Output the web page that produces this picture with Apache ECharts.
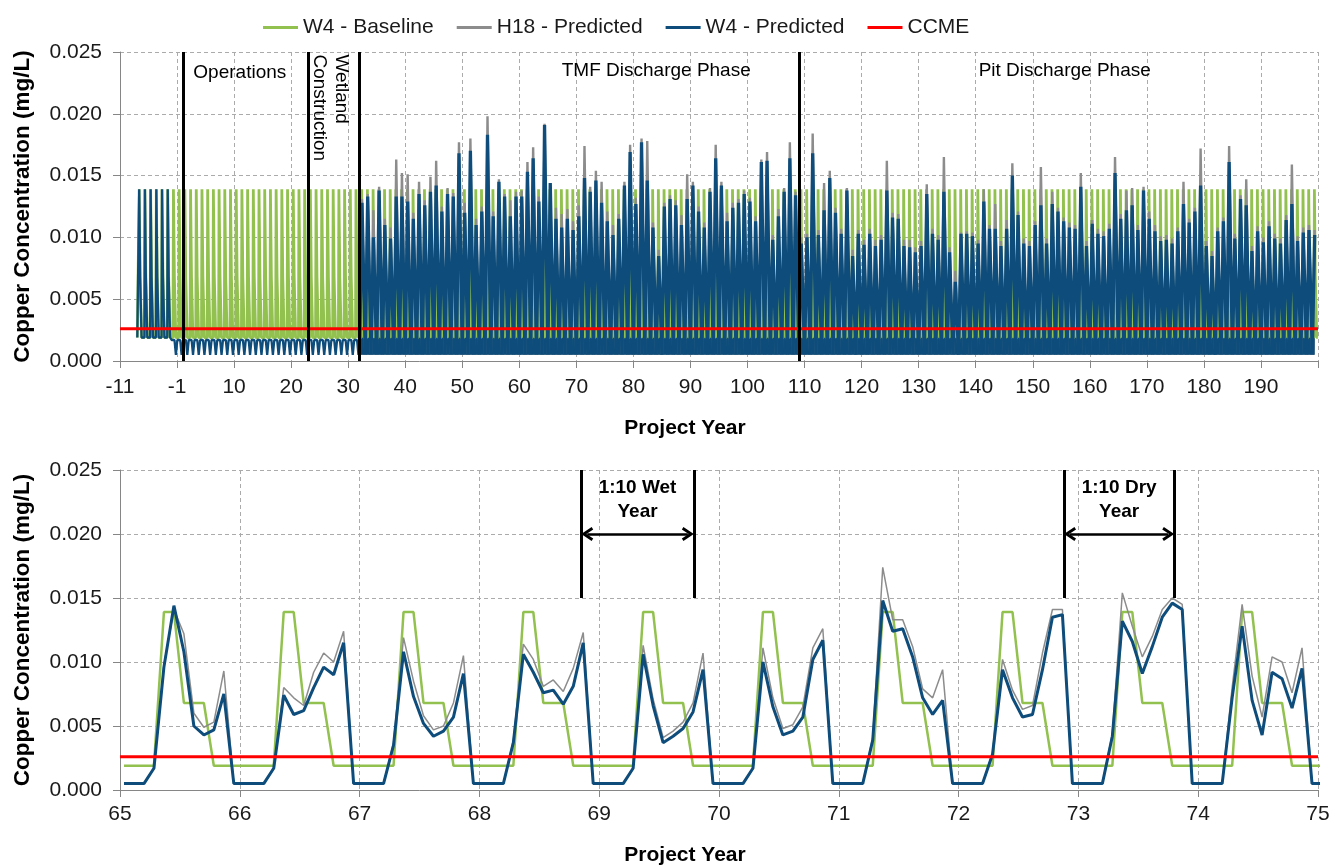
<!DOCTYPE html>
<html>
<head>
<meta charset="utf-8">
<script src="https://cdn.jsdelivr.net/npm/echarts@6.0.0/dist/echarts.min.js"></script>
<style>
html, body { margin: 0; padding: 0; background: #fff; }
#main { width: 1335px; height: 867px; }
</style>
</head>
<body>
<div id="main"></div>
<script>
// ---- data ----
// top chart: project years have no year 0, so ticks are spaced in "year slots"
const topTickLabels = ['-11', '-1', '10', '20', '30', '40', '50', '60', '70', '80', '90',
    '100', '110', '120', '130', '140', '150', '160', '170', '180', '190'];
// W4 baseline, one value per month (same every year)
const baselineCycle = [0.0019, 0.0019, 0.0019, 0.0019, 0.0139, 0.0139, 0.0068, 0.0068, 0.0068, 0.0019, 0.0019, 0.0019];
const topFirstYear = -8;
const topLastYear = 199;
// W4 predicted before operations follows the baseline
const preOpsYears = [-8, -7, -6, -5, -4, -3];
// W4 predicted during operations / wetland construction (years -2..31): summer level, winter dip
const opsYears = [-2, 31];
const opsLevels = [0.0017, 0.0005];
// discharge phases (years 32..199): winter low and annual peak
const dischargeFirstYear = 32;
const dischargeLow = 0.0005;
const w4Peak = [
    0.0128, 0.0133, 0.0100, 0.0138, 0.0110, 0.0099, 0.0133, 0.0133, 0.0129, 0.0115,
    0.0135, 0.0126, 0.0137, 0.0142, 0.0121, 0.0135, 0.0133, 0.0168, 0.0120, 0.0170,
    0.0110, 0.0121, 0.0183, 0.0117, 0.0145, 0.0133, 0.0117, 0.0133, 0.0133, 0.0153,
    0.0164, 0.0129, 0.0191, 0.0144, 0.0115, 0.0108, 0.0115, 0.0106, 0.0117, 0.0148,
    0.0137, 0.0146, 0.0128, 0.0113, 0.0102, 0.0115, 0.0142, 0.0169, 0.0127, 0.0177,
    0.0146, 0.0108, 0.0085, 0.0125, 0.0131, 0.0126, 0.0110, 0.0131, 0.0142, 0.0121,
    0.0108, 0.0137, 0.0164, 0.0142, 0.0113, 0.0124, 0.0128, 0.0135, 0.0129, 0.0113,
    0.0161, 0.0162, 0.0098, 0.0117, 0.0137, 0.0164, 0.0134, 0.0095, 0.0100, 0.0168,
    0.0102, 0.0122, 0.0148, 0.0120, 0.0103, 0.0138, 0.0085, 0.0103, 0.0094, 0.0103,
    0.0093, 0.0098, 0.0138, 0.0116, 0.0115, 0.0093, 0.0092, 0.0088, 0.0093, 0.0135,
    0.0103, 0.0098, 0.0137, 0.0088, 0.0064, 0.0103, 0.0103, 0.0101, 0.0095, 0.0129,
    0.0107, 0.0107, 0.0093, 0.0107, 0.0150, 0.0118, 0.0095, 0.0093, 0.0110, 0.0126,
    0.0095, 0.0127, 0.0121, 0.0113, 0.0108, 0.0107, 0.0141, 0.0093, 0.0111, 0.0103,
    0.0101, 0.0107, 0.0152, 0.0115, 0.0122, 0.0126, 0.0106, 0.0138, 0.0115, 0.0105,
    0.0097, 0.0098, 0.0095, 0.0105, 0.0127, 0.0112, 0.0121, 0.0142, 0.0093, 0.0085,
    0.0105, 0.0113, 0.0161, 0.0099, 0.0131, 0.0126, 0.0089, 0.0105, 0.0096, 0.0109,
    0.0099, 0.0095, 0.0114, 0.0127, 0.0097, 0.0104, 0.0106, 0.0102
];
const h18Peak = [
    0.0131, 0.0135, 0.0122, 0.0141, 0.0115, 0.0108, 0.0163, 0.0152, 0.0151, 0.0120,
    0.0145, 0.0130, 0.0149, 0.0162, 0.0125, 0.0140, 0.0136, 0.0177, 0.0128, 0.0180,
    0.0115, 0.0125, 0.0198, 0.0121, 0.0147, 0.0135, 0.0130, 0.0137, 0.0138, 0.0161,
    0.0173, 0.0133, 0.0192, 0.0141, 0.0124, 0.0119, 0.0123, 0.0113, 0.0126, 0.0174,
    0.0141, 0.0154, 0.0145, 0.0121, 0.0110, 0.0119, 0.0145, 0.0175, 0.0132, 0.0180,
    0.0178, 0.0112, 0.0090, 0.0128, 0.0134, 0.0130, 0.0118, 0.0151, 0.0145, 0.0125,
    0.0112, 0.0140, 0.0175, 0.0145, 0.0120, 0.0128, 0.0131, 0.0138, 0.0132, 0.0117,
    0.0163, 0.0169, 0.0102, 0.0123, 0.0140, 0.0177, 0.0137, 0.0100, 0.0103, 0.0184,
    0.0106, 0.0144, 0.0154, 0.0124, 0.0107, 0.0140, 0.0090, 0.0106, 0.0098, 0.0107,
    0.0098, 0.0102, 0.0162, 0.0120, 0.0119, 0.0098, 0.0098, 0.0092, 0.0097, 0.0143,
    0.0107, 0.0102, 0.0165, 0.0092, 0.0073, 0.0104, 0.0105, 0.0104, 0.0098, 0.0139,
    0.0110, 0.0127, 0.0097, 0.0114, 0.0160, 0.0121, 0.0099, 0.0097, 0.0113, 0.0157,
    0.0099, 0.0137, 0.0124, 0.0116, 0.0112, 0.0110, 0.0152, 0.0097, 0.0114, 0.0107,
    0.0105, 0.0111, 0.0165, 0.0119, 0.0138, 0.0140, 0.0110, 0.0141, 0.0121, 0.0110,
    0.0101, 0.0102, 0.0099, 0.0108, 0.0145, 0.0115, 0.0124, 0.0172, 0.0097, 0.0089,
    0.0108, 0.0116, 0.0174, 0.0103, 0.0134, 0.0147, 0.0093, 0.0109, 0.0100, 0.0113,
    0.0103, 0.0099, 0.0118, 0.0159, 0.0101, 0.0108, 0.0110, 0.0106
];
const ccme = 0.0026;
const phaseYears = [1, 23, 32, 109];

// bottom chart: monthly values, years 65..75
const bottomStart = 65;
const bottomW4 = [
    0.0005, 0.0005, 0.0005, 0.0017, 0.0096, 0.0144, 0.0108, 0.0050, 0.0043, 0.0047, 0.0075, 0.0005,
    0.0005, 0.0005, 0.0005, 0.0017, 0.0074, 0.0059, 0.0062, 0.0080, 0.0096, 0.0090, 0.0115, 0.0005,
    0.0005, 0.0005, 0.0005, 0.0035, 0.0108, 0.0073, 0.0052, 0.0042, 0.0046, 0.0057, 0.0091, 0.0005,
    0.0005, 0.0005, 0.0005, 0.0037, 0.0106, 0.0092, 0.0076, 0.0078, 0.0067, 0.0081, 0.0115, 0.0005,
    0.0005, 0.0005, 0.0005, 0.0017, 0.0106, 0.0066, 0.0037, 0.0042, 0.0048, 0.0061, 0.0094, 0.0005,
    0.0005, 0.0005, 0.0005, 0.0017, 0.0100, 0.0065, 0.0043, 0.0046, 0.0057, 0.0102, 0.0117, 0.0005,
    0.0005, 0.0005, 0.0005, 0.0039, 0.0148, 0.0124, 0.0126, 0.0104, 0.0072, 0.0059, 0.0070, 0.0005,
    0.0005, 0.0005, 0.0005, 0.0028, 0.0094, 0.0072, 0.0057, 0.0059, 0.0094, 0.0135, 0.0137, 0.0005,
    0.0005, 0.0005, 0.0005, 0.0042, 0.0132, 0.0116, 0.0091, 0.0112, 0.0135, 0.0146, 0.0141, 0.0005,
    0.0005, 0.0005, 0.0005, 0.0072, 0.0128, 0.0070, 0.0043, 0.0092, 0.0087, 0.0064, 0.0095, 0.0005,
    0.0005
];
const bottomH18 = [
    0.0005, 0.0005, 0.0005, 0.0017, 0.0098, 0.0141, 0.0122, 0.0060, 0.0049, 0.0053, 0.0093, 0.0005,
    0.0005, 0.0005, 0.0005, 0.0017, 0.0080, 0.0072, 0.0066, 0.0092, 0.0107, 0.0100, 0.0124, 0.0005,
    0.0005, 0.0005, 0.0005, 0.0037, 0.0119, 0.0085, 0.0058, 0.0047, 0.0050, 0.0068, 0.0105, 0.0005,
    0.0005, 0.0005, 0.0005, 0.0039, 0.0114, 0.0102, 0.0081, 0.0086, 0.0077, 0.0095, 0.0123, 0.0005,
    0.0005, 0.0005, 0.0005, 0.0017, 0.0113, 0.0071, 0.0041, 0.0046, 0.0053, 0.0068, 0.0107, 0.0005,
    0.0005, 0.0005, 0.0005, 0.0017, 0.0111, 0.0072, 0.0048, 0.0051, 0.0065, 0.0111, 0.0126, 0.0005,
    0.0005, 0.0005, 0.0005, 0.0041, 0.0174, 0.0133, 0.0133, 0.0112, 0.0079, 0.0072, 0.0094, 0.0005,
    0.0005, 0.0005, 0.0005, 0.0029, 0.0102, 0.0078, 0.0063, 0.0066, 0.0107, 0.0141, 0.0141, 0.0005,
    0.0005, 0.0005, 0.0005, 0.0044, 0.0154, 0.0128, 0.0104, 0.0120, 0.0141, 0.0150, 0.0145, 0.0005,
    0.0005, 0.0005, 0.0005, 0.0080, 0.0145, 0.0089, 0.0057, 0.0104, 0.0100, 0.0076, 0.0111, 0.0005,
    0.0005
];
const wetYear = [68.85, 69.79];
const dryYear = [72.88, 73.80];

// ---- build series ----
function slot(year) { return year < 0 ? year + 11 : year + 10; }

var topBaseline = [];
for (var y = topFirstYear; y <= topLastYear; y++) {
    if (y === 0) continue;
    baselineCycle.forEach(function (v, m) { topBaseline.push([slot(y) + (m + 0.4) / 12, v]); });
}
var topW4Early = [];
preOpsYears.forEach(function (y) {
    baselineCycle.forEach(function (v, m) { topW4Early.push([slot(y) + (m + 0.4) / 12, v]); });
});
for (var y = opsYears[0]; y <= opsYears[1]; y++) {
    if (y === 0) continue;
    topW4Early.push([slot(y) + 0.05, opsLevels[0]], [slot(y) + 0.55, opsLevels[0]], [slot(y) + 0.8, opsLevels[1]]);
}
var topW4 = [], topH18 = [];
w4Peak.forEach(function (p, i) {
    var x = slot(dischargeFirstYear + i);
    topW4.push([x, dischargeLow], [x + 0.1, dischargeLow], [x + 0.42, p]);
    topH18.push([x, dischargeLow], [x + 0.1, dischargeLow], [x + 0.42, h18Peak[i]]);
});

function monthly(arr) { return arr.map(function (v, k) { return [bottomStart + (k + 0.4) / 12, v]; }); }
var botBaseline = bottomW4.map(function (v, k) { return [bottomStart + (k + 0.4) / 12, baselineCycle[k % 12]]; });

const FONT = 'Liberation Sans';
const GREEN = '#92C150', GREY = '#8C8C8C', BLUE = '#0E4D7B', RED = '#FF0000';
// open arrow head (tip up, rotated by the mark line)
const CHEVRON = 'path://M0,13 L10,0 L20,13 L16.5,15 L10,6.5 L3.5,15 Z';

function yAxisCfg(gi) {
    return {
        gridIndex: gi, type: 'value', min: 0, max: 0.025, interval: 0.005,
        name: 'Copper Concentration (mg/L)', nameLocation: 'middle', nameGap: 86,
        nameTextStyle: { fontFamily: FONT, fontSize: 22.5, fontWeight: 'bold', color: '#000' },
        axisLine: { show: true, lineStyle: { color: '#868686' } },
        axisTick: { show: true, length: 7, lineStyle: { color: '#868686' } },
        axisLabel: { fontFamily: FONT, fontSize: 21, color: '#1a1a1a', margin: 18,
            formatter: function (v) { return v.toFixed(3); } },
        splitLine: { lineStyle: { color: '#ababab', type: [4, 3] } }
    };
}

function line(name, xi, data, color, width, extra) {
    return Object.assign({ name: name, type: 'line', xAxisIndex: xi, yAxisIndex: xi, data: data,
        showSymbol: false, symbol: 'none', color: color, lineStyle: { width: width }, silent: true }, extra || {});
}

// double arrow between two marker lines; heads pulled in so their tips touch the lines
function arrowPair(a, b) {
    return [{ coord: [a + 0.05, 0.020], symbol: CHEVRON, symbolSize: [14, 12] },
            { coord: [b - 0.05, 0.020], symbol: CHEVRON, symbolSize: [14, 12], lineStyle: { width: 2.5 } }];
}

var chart = echarts.init(document.getElementById('main'));
var option = {
    animation: false,
    legend: {
        top: 12, left: 258, itemWidth: 35, itemHeight: 3, itemGap: 23, icon: 'rect',
        textStyle: { fontFamily: FONT, fontSize: 21, color: '#1a1a1a' },
        data: ['W4 - Baseline', 'H18 - Predicted', 'W4 - Predicted', 'CCME']
    },
    grid: [
        { left: 120, top: 52, width: 1198, height: 309 },
        { left: 120, top: 470, width: 1198, height: 320 }
    ],
    xAxis: [
        {
            gridIndex: 0, type: 'value', min: 0, max: 210, interval: 10,
            name: 'Project Year', nameLocation: 'middle', nameGap: 57,
            nameTextStyle: { fontFamily: FONT, fontSize: 21, fontWeight: 'bold', color: '#000', padding: [0, 68, 0, 0] },
            axisLine: { lineStyle: { color: '#868686' } },
            axisTick: { length: 7, lineStyle: { color: '#868686' } },
            axisLabel: { fontFamily: FONT, fontSize: 21, color: '#1a1a1a', margin: 16,
                formatter: function (v) { var t = topTickLabels[Math.round(v / 10)]; return t === undefined ? '' : t; } },
            splitLine: { show: true, lineStyle: { color: '#ababab', type: [4, 3] } }
        },
        {
            gridIndex: 1, type: 'value', min: 65, max: 75, interval: 1,
            name: 'Project Year', nameLocation: 'middle', nameGap: 55,
            nameTextStyle: { fontFamily: FONT, fontSize: 21, fontWeight: 'bold', color: '#000', padding: [0, 68, 0, 0] },
            axisLine: { lineStyle: { color: '#868686' } },
            axisTick: { length: 7, lineStyle: { color: '#868686' } },
            axisLabel: { fontFamily: FONT, fontSize: 21, color: '#1a1a1a', margin: 14 },
            splitLine: { show: true, lineStyle: { color: '#ababab', type: [4, 3] } }
        }
    ],
    yAxis: [yAxisCfg(0), yAxisCfg(1)],
    series: [
        line('W4 - Baseline', 0, topBaseline, GREEN, 2.8),
        line('H18 - Predicted', 0, topH18, GREY, 2.4, { areaStyle: { color: GREY, opacity: 1, origin: dischargeLow } }),
        line('W4 - Predicted', 0, topW4Early, BLUE, 2.3),
        line('W4 - Predicted', 0, topW4, BLUE, 3.3, { areaStyle: { color: BLUE, opacity: 1, origin: dischargeLow } }),
        line('CCME', 0, [[0, ccme], [210, ccme]], RED, 3, {
          markLine: { silent: true, symbol: ['none', 'none'], label: { show: false },
              lineStyle: { color: '#000', width: 3, type: 'solid' },
              data: phaseYears.map(function (y) { return { xAxis: slot(y) }; }) } }),

        line('W4 - Baseline', 1, botBaseline, GREEN, 2.5),
        line('H18 - Predicted', 1, monthly(bottomH18), GREY, 1.5),
        line('W4 - Predicted', 1, monthly(bottomW4), BLUE, 3),
        line('CCME', 1, [[65, ccme], [75, ccme]], RED, 3, {
          markLine: { silent: true, symbol: ['none', 'none'], label: { show: false },
              lineStyle: { color: '#000', width: 3, type: 'solid' },
              data: [
                  [{ coord: [wetYear[0], 0.015] }, { coord: [wetYear[0], 0.025] }],
                  [{ coord: [wetYear[1], 0.015] }, { coord: [wetYear[1], 0.025] }],
                  [{ coord: [dryYear[0], 0.015] }, { coord: [dryYear[0], 0.025] }],
                  [{ coord: [dryYear[1], 0.015] }, { coord: [dryYear[1], 0.025] }],
                  arrowPair(wetYear[0], wetYear[1]),
                  arrowPair(dryYear[0], dryYear[1])
              ] } })
    ]
};
chart.setOption(option);

// annotation texts placed through the axes
function px(gi, x, y) { return chart.convertToPixel({ gridIndex: gi }, [x, y]); }
function label(gi, x, y, text, extra) {
    var p = px(gi, x, y);
    return {
        type: 'text', x: p[0], y: p[1], silent: true,
        style: Object.assign({ text: text, fill: '#000', font: '19px "' + FONT + '"', align: 'center', verticalAlign: 'middle' }, extra || {})
    };
}
var wl = px(0, slot(32) - 1.3, 0.0248);
chart.setOption({
    graphic: [
        label(0, 21, 0.0233, 'Operations'),
        label(0, 94, 0.0235, 'TMF Discharge Phase'),
        label(0, 165.6, 0.0235, 'Pit Discharge Phase'),
        { type: 'text', x: wl[0], y: wl[1], rotation: -Math.PI / 2, silent: true,
          style: { text: 'Wetland\nConstruction', fill: '#000', font: '19px "' + FONT + '"', lineHeight: 22, align: 'left', verticalAlign: 'top' } },
        label(1, (wetYear[0] + wetYear[1]) / 2, 0.0227, '1:10 Wet\nYear', { font: 'bold 19px "' + FONT + '"', lineHeight: 24 }),
        label(1, (dryYear[0] + dryYear[1]) / 2, 0.0227, '1:10 Dry\nYear', { font: 'bold 19px "' + FONT + '"', lineHeight: 24 })
    ]
});
window.addEventListener('resize', function () { chart.resize(); });
</script>
</body>
</html>
